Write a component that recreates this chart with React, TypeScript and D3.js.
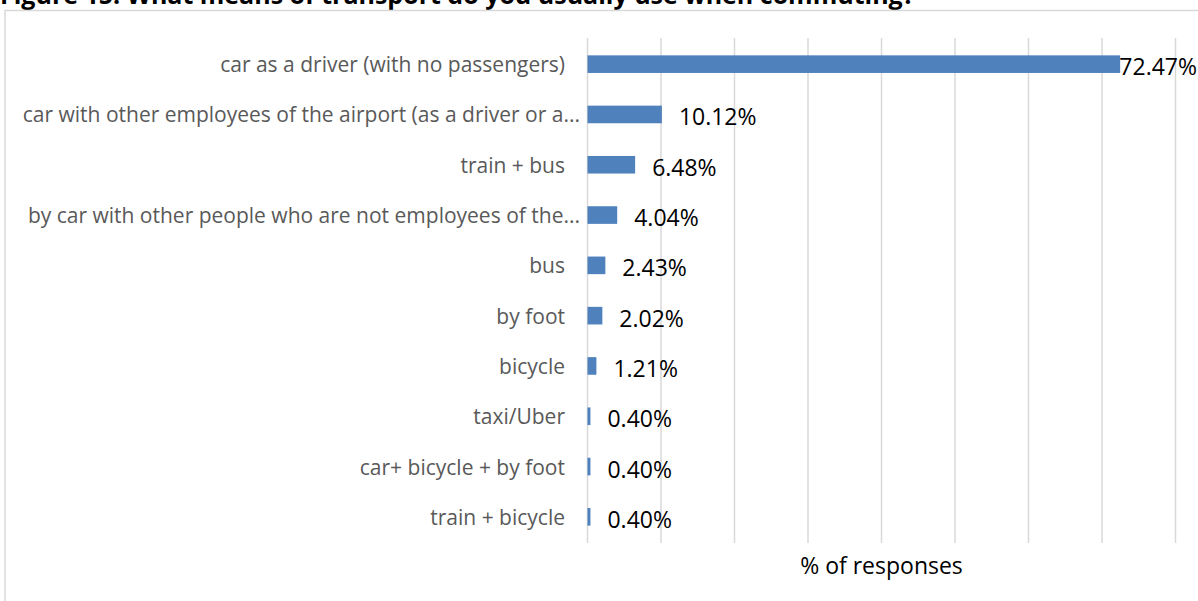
import * as d3 from 'd3';
import React from 'react';

// chart data
const categories = [
    "car as a driver (with no passengers)",
    "car with other employees of the airport (as a driver or a...",
    "train + bus",
    "by car with other people who are not employees of the...",
    "bus",
    "by foot",
    "bicycle",
    "taxi/Uber",
    "car+ bicycle + by foot",
    "train + bicycle",
];
const shares = [72.47, 10.12, 6.48, 4.04, 2.43, 2.02, 1.21, 0.40, 0.40, 0.40];
const gridTicks = [0, 10, 20, 30, 40, 50, 60, 70, 80];

const title = "Figure 15. What means of transport do you usually use when commuting?";
const axisTitle = "% of responses";

const W = 1198;
const H = 601;
const FONT = "'Open Sans', 'Noto Sans', sans-serif";

function App() {
    const x = d3.scaleLinear().domain([0, 80]).range([587.5, 1175.5]);
    const y = d3.scaleBand<string>()
        .domain(categories)
        .range([39, 542])
        .paddingInner(0.65)
        .paddingOuter(0.325);

    const labelX = (v: number) => {
        const end = x(v) + 17;
        // excel pulls the label back in when it would run off the chart
        return end + 75 > W ? { x: W - 1, anchor: "end" } : { x: end, anchor: "start" };
    };

    return (
        <svg width={W} height={H} style={{ position: "absolute", left: 0, top: 0, background: "#fff" }}>
            <text x={0} y={4} fontFamily={FONT} fontWeight="bold" fontSize={25} fill="#000">
                {title}
            </text>

            {/* chart frame, runs past the right and bottom of the page */}
            <rect x={5} y={10.5} width={W + 20} height={H + 20} fill="none" stroke="#d9d9d9" strokeWidth={1.5} />

            {/* gridlines */}
            <g>
                {gridTicks.map(t => (
                    <line key={t} x1={x(t)} x2={x(t)} y1={38} y2={543} stroke="#d9d9d9" strokeWidth={1.5} />
                ))}
            </g>

            {/* bars */}
            <g>
                {categories.map((c, i) => (
                    <rect key={c} x={x(0)} y={y(c)} width={x(shares[i]) - x(0)}
                        height={y.bandwidth()} fill="#4f81bd" />
                ))}
            </g>

            {/* category labels, the truncated ones sit a bit closer to the axis */}
            <g fontFamily={FONT} fontSize={21} fill="#595959">
                {categories.map(c => (
                    <text key={c} x={c.endsWith("...") ? 580 : 565} y={(y(c) || 0) + y.bandwidth() / 2}
                        textAnchor="end" dominantBaseline="central">
                        {c}
                    </text>
                ))}
            </g>

            {/* value labels */}
            <g fontFamily={FONT} fontSize={23} fill="#000">
                {categories.map((c, i) => {
                    const p = labelX(shares[i]);
                    return (
                        <text key={c} x={p.x} y={(y(c) || 0) + y.bandwidth() / 2 + 2} textAnchor={p.anchor}
                            dominantBaseline="central">
                            {shares[i].toFixed(2) + "%"}
                        </text>
                    );
                })}
            </g>

            <text x={(x(0) + x(80)) / 2} y={565} textAnchor="middle" dominantBaseline="central"
                fontFamily={FONT} fontSize={23} fill="#000">
                {axisTitle}
            </text>
        </svg>
    );
}

export default App;
